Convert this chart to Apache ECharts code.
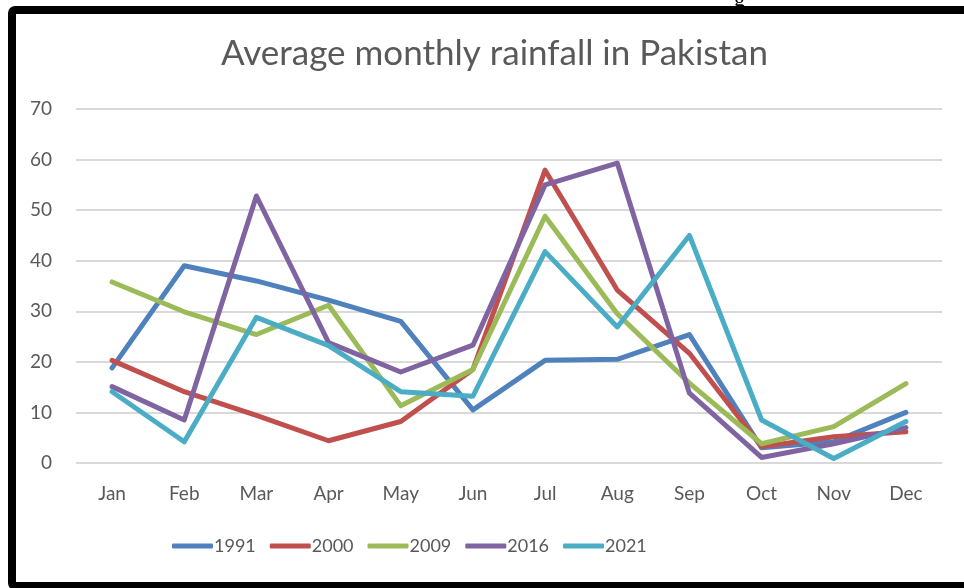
<!DOCTYPE html>
<html>
<head>
<meta charset="utf-8">
<script src="https://cdn.jsdelivr.net/npm/echarts@6/dist/echarts.min.js"></script>
<style>
html,body{margin:0;padding:0;background:#fff;}
#chart{width:964px;height:588px;}
</style>
</head>
<body>
<div id="chart"></div>
<script>
const months = ['Jan','Feb','Mar','Apr','May','Jun','Jul','Aug','Sep','Oct','Nov','Dec'];
const yTicks = [0,10,20,30,40,50,60,70];
const s1991 = [18.8, 39.0, 36.0, 32.2, 28.0, 10.5, 20.3, 20.5, 25.4, 3.0, 4.2, 10.0];
const s2000 = [20.3, 14.1, 9.4, 4.4, 8.2, 18.5, 57.9, 34.2, 21.7, 3.2, 5.2, 6.2];
const s2009 = [35.8, 29.9, 25.4, 31.2, 11.3, 18.5, 48.8, 29.5, 15.8, 3.8, 7.2, 15.7];
const s2016 = [15.1, 8.5, 52.8, 23.8, 18.0, 23.3, 55.0, 59.3, 13.8, 1.1, 3.8, 7.0];
const s2021 = [14.1, 4.2, 28.8, 23.2, 14.1, 13.2, 41.8, 26.9, 45.0, 8.5, 0.9, 8.2];
const seriesNames = ['1991','2000','2009','2016','2021'];
const seriesData = [s1991, s2000, s2009, s2016, s2021];
const colors = ['#4F81BD','#C0504D','#9BBB59','#8064A2','#4BACC6'];

const FONT = 'Lato';
const chart = echarts.init(document.getElementById('chart'));
chart.setOption({
  animation: false,
  color: colors,
  title: {
    text: 'Average monthly rainfall in Pakistan',
    left: 216,
    top: 31,
    textStyle: {fontFamily: FONT, fontSize: 35, fontWeight: 'normal', color: '#595959'}
  },
  graphic: [
    {type: 'rect', shape: {x: 12, y: 10, width: 1000, height: 576, r: 3},
     style: {fill: 'none', stroke: '#000', lineWidth: 8}, z: 100},
    {type: 'text', left: 734, top: -11, style: {text: 'g', font: '22px "Liberation Serif"', fill: '#000'}}
  ],
  legend: {
    bottom: 28,
    left: 167,
    itemWidth: 41,
    itemHeight: 5,
    itemGap: 14,
    icon: 'roundRect',
    textStyle: {fontFamily: FONT, fontSize: 18, color: '#595959', padding: [0,0,0,-4]},
    data: seriesNames
  },
  grid: {left: 76, right: 22, top: 109, bottom: 125},
  xAxis: {
    type: 'category',
    data: months,
    boundaryGap: true,
    axisLine: {show: false},
    axisTick: {show: false},
    axisLabel: {fontFamily: FONT, fontSize: 19, color: '#595959', margin: 21}
  },
  yAxis: {
    type: 'value',
    min: yTicks[0],
    max: yTicks[yTicks.length-1],
    interval: 10,
    axisLine: {show: false},
    axisTick: {show: false},
    splitLine: {lineStyle: {color: '#D9D9D9', width: 2}},
    axisLabel: {fontFamily: FONT, fontSize: 19, color: '#595959', margin: 24}
  },
  series: seriesNames.map((n, i) => ({
    name: n,
    type: 'line',
    data: seriesData[i],
    symbol: 'none',
    lineStyle: {width: 5, cap: 'round', join: 'round'}
  }))
});
</script>
</body>
</html>
